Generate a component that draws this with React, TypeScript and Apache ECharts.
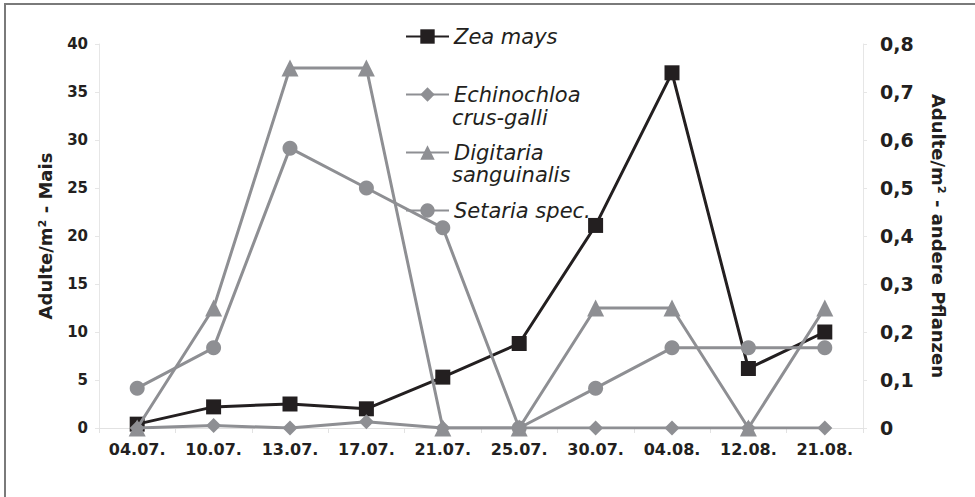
import React, { useEffect, useRef } from "react";
import * as echarts from "echarts";

const categories = ["04.07.", "10.07.", "13.07.", "17.07.", "21.07.", "25.07.", "30.07.", "04.08.", "12.08.", "21.08."];
const zeaMays = [0.4, 2.2, 2.5, 2.0, 5.3, 8.8, 21.1, 37.0, 6.2, 10.0];
const echinochloa = [0, 0.005, 0, 0.013, 0, 0, 0, 0, 0, 0];
const digitaria = [0, 0.25, 0.75, 0.75, 0, 0, 0.25, 0.25, 0, 0.25];
const setaria = [0.083, 0.167, 0.583, 0.5, 0.417, 0, 0.083, 0.167, 0.167, 0.167];

const leftTitle = "Adulte/m² - Mais";
const rightTitle = "Adulte/m² - andere Pflanzen";
const seriesNames = ["Zea mays", "Echinochloa crus-galli", "Digitaria sanguinalis", "Setaria spec."];
const legendFirstLines = ["Zea mays", "Echinochloa", "Digitaria", "Setaria spec."];
const legendSecondLines = ["", "crus-galli", "sanguinalis", ""];

const BLACK = "#231f20";
const GRAY = "#8e8f93";
const FONT = "'DejaVu Sans', Verdana, sans-serif";

export default function App() {
  const ref = useRef<HTMLDivElement>(null);
  useEffect(() => {
    document.body.style.margin = "0";
    if (!ref.current) return;
    const chart = echarts.init(ref.current, null, { renderer: "svg" });
    const legendFont = {
      fontFamily: FONT,
      fontStyle: "italic" as const,
      fontSize: 21,
      color: BLACK,
    };
    const secondLineTexts = legendSecondLines
      .map((t, i) => ({ t, i }))
      .filter((d) => d.t)
      .map((d) => ({
        type: "text",
        x: 452,
        y: 31 + 57 * d.i + 30,
        style: {
          text: d.t,
          font: `italic 21px ${FONT}`,
          fill: BLACK,
          verticalAlign: "middle",
          lineHeight: 20,
        },
      }));
    chart.setOption({
      animation: false,
      backgroundColor: "#ffffff",
      grid: { left: 99, right: 112, top: 44, bottom: 69 },
      legend: {
        orient: "vertical",
        left: 400,
        top: 21,
        itemWidth: 43,
        itemHeight: 18,
        itemGap: 37,
        data: seriesNames,
        formatter: (name: string) => legendFirstLines[seriesNames.indexOf(name)],
        textStyle: { ...legendFont, lineHeight: 20 },
      },
      graphic: [
        {
          type: "rect",
          shape: { x: 5, y: 4, width: 1200, height: 800 },
          style: { fill: "none", stroke: "#7a7a7a", lineWidth: 2 },
          silent: true,
          z: 0,
        },
        ...secondLineTexts,
      ],
      xAxis: {
        type: "category",
        data: categories,
        boundaryGap: true,
        axisLine: { lineStyle: { color: "#e2e2e2", width: 1 } },
        axisTick: { show: true, length: 5, lineStyle: { color: "#e2e2e2" } },
        axisLabel: { margin: 13, fontFamily: FONT, fontWeight: "bold", fontSize: 16, color: BLACK },
      },
      yAxis: [
        {
          type: "value",
          min: 0,
          max: 40,
          interval: 5,
          name: leftTitle,
          nameLocation: "middle",
          nameRotate: 90,
          nameGap: 45,
          nameTextStyle: { fontFamily: FONT, fontWeight: "bold", fontSize: 18, color: BLACK },
          axisLine: { show: true, lineStyle: { color: "#e6e6e6" } },
          axisTick: { show: true, length: 4, lineStyle: { color: "#e6e6e6" } },
          splitLine: { show: false },
          axisLabel: { margin: 11, fontFamily: FONT, fontWeight: "bold", fontSize: 15, color: BLACK },
        },
        {
          type: "value",
          min: 0,
          max: 0.8,
          interval: 0.1,
          position: "right",
          name: rightTitle,
          nameLocation: "middle",
          nameRotate: -90,
          nameGap: 66,
          nameTextStyle: { fontFamily: FONT, fontWeight: "bold", fontSize: 18, color: BLACK },
          axisLine: { show: true, lineStyle: { color: "#e6e6e6" } },
          axisTick: { show: true, length: 4, lineStyle: { color: "#e6e6e6" } },
          splitLine: { show: false },
          axisLabel: {
            margin: 17,
            fontFamily: FONT,
            fontWeight: "bold",
            fontSize: 19,
            color: BLACK,
            formatter: (v: number) => (v === 0 ? "0" : v.toFixed(1).replace(".", ",")),
          },
        },
      ],
      series: [
        {
          name: seriesNames[0],
          type: "line",
          yAxisIndex: 0,
          data: zeaMays,
          symbol: "rect",
          symbolSize: 15,
          itemStyle: { color: BLACK },
          lineStyle: { color: BLACK, width: 3 },
          z: 2,
        },
        {
          name: seriesNames[1],
          type: "line",
          yAxisIndex: 1,
          data: echinochloa,
          symbol: "diamond",
          symbolSize: 15,
          itemStyle: { color: GRAY },
          lineStyle: { color: GRAY, width: 3 },
          z: 5,
        },
        {
          name: seriesNames[2],
          type: "line",
          yAxisIndex: 1,
          data: digitaria,
          symbol: "triangle",
          symbolSize: 17,
          itemStyle: { color: GRAY },
          lineStyle: { color: GRAY, width: 3 },
          z: 4,
        },
        {
          name: seriesNames[3],
          type: "line",
          yAxisIndex: 1,
          data: setaria,
          symbol: "circle",
          symbolSize: 15,
          itemStyle: { color: GRAY },
          lineStyle: { color: GRAY, width: 3 },
          z: 3,
        },
      ],
    });
    return () => chart.dispose();
  }, []);
  return <div ref={ref} style={{ width: 975, height: 497 }} />;
}
